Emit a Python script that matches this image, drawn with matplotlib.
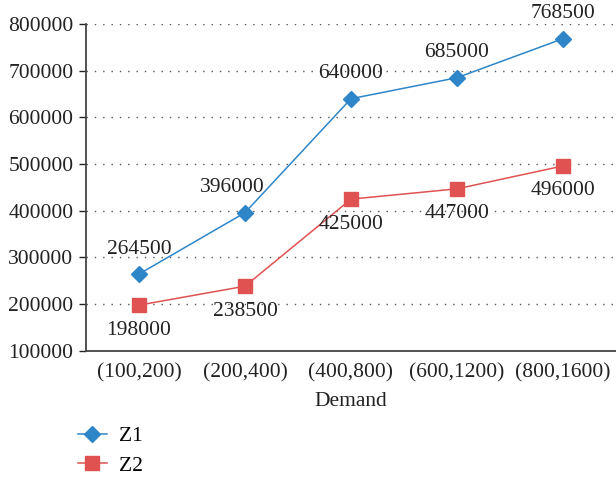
import matplotlib.pyplot as plt
from matplotlib.lines import Line2D

plt.rcParams['font.family'] = ['Liberation Serif', 'DejaVu Serif']

# 需求区间与两组结果
categories = ['(100,200)', '(200,400)', '(400,800)', '(600,1200)', '(800,1600)']
z1 = [264500, 396000, 640000, 685000, 768500]
z2 = [198000, 238500, 425000, 447000, 496000]

blue = '#2E86C8'
red = '#E05252'
fs = 15.5

fig = plt.figure(figsize=(6.16, 4.8), dpi=100)
ax = fig.add_axes([0.1396, 0.269, 0.8604, 0.681])

x = range(len(categories))
ax.plot(x, z1, color=blue, lw=1.1, marker='D', ms=8.5, mfc=blue, mec=blue, zorder=3)
ax.plot(x, z2, color=red, lw=1.1, marker='s', ms=10.5, mfc=red, mec=red, zorder=3)

# 数据标签：Z1在上方，Z2在下方
for i, v in enumerate(z1):
    dx = -9 if i == 1 else 0
    ax.annotate(str(v), (i, v), xytext=(dx, 18), textcoords='offset points',
                ha='center', va='center', fontsize=fs, color='#222222')
for i, v in enumerate(z2):
    ax.annotate(str(v), (i, v), xytext=(0, -18), textcoords='offset points',
                ha='center', va='center', fontsize=fs, color='#222222')

ax.set_xlim(-0.5, len(categories) - 0.5)
ax.set_ylim(100000, 800000)
ax.set_yticks(range(100000, 800001, 100000))
ax.set_xticks(list(x))
ax.set_xticklabels(categories)
ax.tick_params(axis='x', length=0, pad=9, labelsize=fs, colors='#222222')
ax.tick_params(axis='y', length=5, width=1, pad=4, labelsize=fs, colors='#222222')
ax.set_xlabel('Demand', fontsize=fs, color='#222222', labelpad=7)

ax.yaxis.grid(True, linestyle=(0, (1, 5)), color='#555555', lw=1)
ax.set_axisbelow(True)
for s in ['top', 'right']:
    ax.spines[s].set_visible(False)
for s in ['left', 'bottom']:
    ax.spines[s].set_color('#444444')
    ax.spines[s].set_linewidth(1.3)

handles = [
    Line2D([], [], color=blue, lw=1.1, marker='D', ms=8.5, mfc=blue, mec=blue),
    Line2D([], [], color=red, lw=1.1, marker='s', ms=10.5, mfc=red, mec=red),
]
fig.legend(handles, ['Z1', 'Z2'], loc='lower left', bbox_to_anchor=(0.095, -0.032),
           frameon=False, fontsize=fs, handlelength=1.35, labelspacing=0.45,
           handletextpad=0.55)

fig.savefig('out.png', dpi=100)
